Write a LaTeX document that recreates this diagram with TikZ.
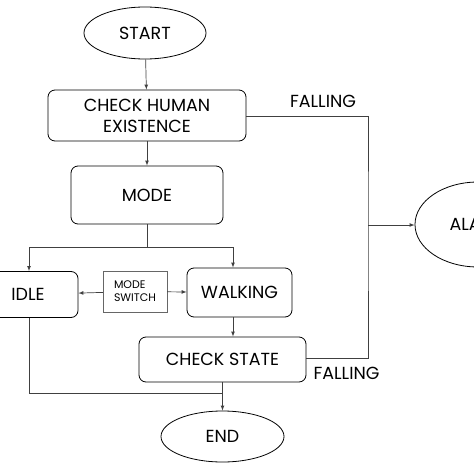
\documentclass[tikz,border=0pt]{standalone}
\usepackage{fontspec}
\setmainfont{Poppins}
\usepackage{tikz}
\usetikzlibrary{%
  arrows,%
  calc,%
  positioning,%
  shapes.geometric%
}
\tikzset{>=latex}
\tikzset{
  term/.style={draw,thick,ellipse,inner sep=0pt,font=\fontsize{17.5}{19}\selectfont},
  stagebox/.style={draw,thick,rounded corners=7pt,align=center,inner sep=0pt,font=\fontsize{17.5}{21}\selectfont},
  switchbox/.style={draw=black!60,align=left,inner sep=0pt,font=\fontsize{11}{13}\selectfont},
  link/.style={draw=black!75,line width=0.7pt},
  fall/.style={font=\fontsize{17.5}{19}\selectfont}
}

\begin{document}
\begin{tikzpicture}[x=1pt,y=-1pt]
        \useasboundingbox (0,0) rectangle (474,474);
        \node[term,minimum width=122pt,minimum height=52pt] (start) at (145,33) {START};
        \node[stagebox,minimum width=198pt,minimum height=51pt] (human) at (147,115.5)
        {CHECK HUMAN\\EXISTENCE};
        \node[stagebox,minimum width=152pt,minimum height=58pt] (mode) at (147,195) {MODE};
        \node[stagebox,minimum width=100pt,minimum height=46pt] (idle) at (28,294.5) {IDLE};
        \node[switchbox,minimum width=64pt,minimum height=41pt] (switch) at (135,291.5)
        {MODE\\SWITCH};
        \node[stagebox,minimum width=105pt,minimum height=49pt] (walk) at (239.5,292.5) {WALKING};
        \node[stagebox,minimum width=167pt,minimum height=45pt] (check) at (222.5,359.5)
        {CHECK STATE};
        \node[term,minimum width=123pt,minimum height=51pt] (end) at (222.5,436.5) {END};
        \node[term,minimum width=126pt,minimum height=85pt] (alarm) at (478,224.5) {ALARM};
        \node[fall] (fallA) at (323,101) {FALLING};
        \node[fall] (fallB) at (346.5,373) {FALLING};
        \coordinate (split) at (147,247);
        \coordinate (bus) at (368,225);
        \draw[link,->] (start) -- (human);
        \draw[link,->] (human) -- (mode);
        \draw[link] (mode) -- (split);
        \draw[link,->] (split) -| (idle.north -| 29,0);
        \draw[link,->] (split) -| (walk.north -| 233,0);
        \draw[link,->] (switch) -- (idle);
        \draw[link,->] (switch) -- (walk);
        \draw[link,->] (walk.south -| 233,0) -- (check.north -| 233,0);
        \draw[link] ($(check.east)+(0,-1.5)$) -| (bus) |- ($(human.east)+(0,0.5)$);
        \draw[link,->] (bus) -- (alarm.west |- bus);
        \draw[link] (idle.south -| 29,0) |- (223,393);
        \draw[link,->] (check) -- (end);
      \end{tikzpicture}
\end{document}
